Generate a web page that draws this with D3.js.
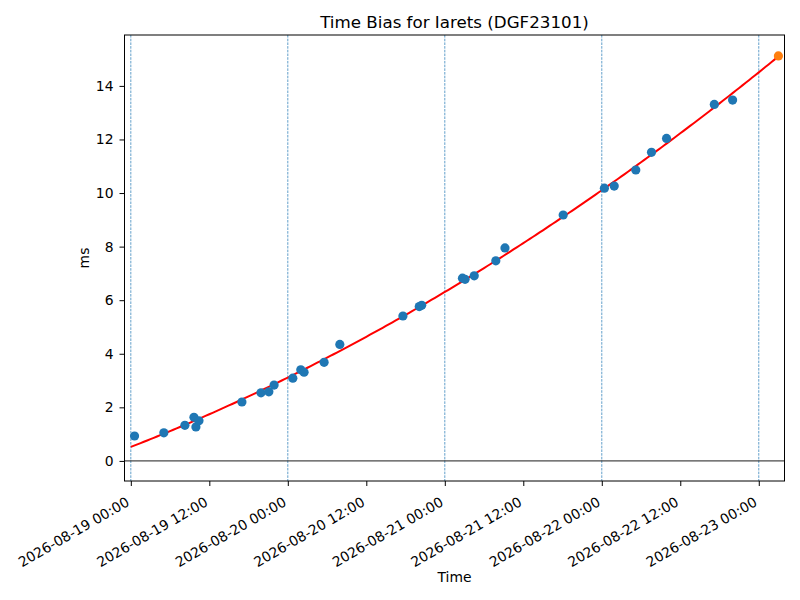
<!DOCTYPE html>
<html>
<head>
<meta charset="utf-8">
<script src="https://cdn.jsdelivr.net/npm/d3@7"></script>
<style>
  body { margin: 0; background: #fff; }
  svg text { font-family: "DejaVu Sans", sans-serif; fill: #000; }
</style>
</head>
<body>
<svg width="800" height="600"></svg>
<script>
// measured time bias samples
var times = ["2026-08-19 00:34", "2026-08-19 05:03", "2026-08-19 08:16", "2026-08-19 09:39", "2026-08-19 09:57",
             "2026-08-19 10:25", "2026-08-19 16:59", "2026-08-19 19:54", "2026-08-19 21:06", "2026-08-19 21:54",
             "2026-08-20 00:46", "2026-08-20 01:59", "2026-08-20 02:29", "2026-08-20 05:33", "2026-08-20 07:57",
             "2026-08-20 17:36", "2026-08-20 20:06", "2026-08-20 20:28", "2026-08-21 02:42", "2026-08-21 03:06",
             "2026-08-21 04:30", "2026-08-21 07:48", "2026-08-21 09:12", "2026-08-21 18:06", "2026-08-22 00:24",
             "2026-08-22 01:54", "2026-08-22 05:12", "2026-08-22 07:36", "2026-08-22 09:54", "2026-08-22 17:12",
             "2026-08-22 20:00"];
var biasMs = [0.93, 1.05, 1.33, 1.63, 1.27,
              1.50, 2.20, 2.54, 2.58, 2.83,
              3.09, 3.40, 3.31, 3.68, 4.35,
              5.41, 5.76, 5.81, 6.82, 6.78,
              6.91, 7.47, 7.95, 9.18, 10.18,
              10.26, 10.86, 11.52, 12.04, 13.31,
              13.47];
// predicted point
var predTime = "2026-08-23 03:00";
var predMs = 15.12;
// day markers
var dayLines = ["2026-08-19 00:00", "2026-08-20 00:00", "2026-08-21 00:00", "2026-08-22 00:00", "2026-08-23 00:00"];
var yTicks = [0, 2, 4, 6, 8, 10, 12, 14];
var xRange = ["2026-08-18 23:02", "2026-08-23 03:56"];
var yRange = [-0.75, 15.9];

var parse = d3.timeParse("%Y-%m-%d %H:%M");
var fmt = d3.timeFormat("%Y-%m-%d %H:%M");
var pts = times.map(function(t, i){ return {t: parse(t), v: biasMs[i]}; });

var svg = d3.select("svg");
var pL = 124.5, pR = 784.5, pT = 35, pB = 481;

var x = d3.scaleTime().domain(xRange.map(parse)).range([pL, pR]);
var y = d3.scaleLinear().domain(yRange).range([pB, pT]);

// quadratic least squares fit on the samples (hours since first day line)
var t0 = parse(dayLines[0]);
function hrs(d){ return (d - t0) / 3600000; }
function fitQuad(xs, ys){
  var S = [[0,0,0],[0,0,0],[0,0,0]], B = [0,0,0];
  xs.forEach(function(xv, i){
    var p = [1, xv, xv*xv];
    for (var r=0; r<3; r++){
      B[r] += p[r]*ys[i];
      for (var c=0; c<3; c++) S[r][c] += p[r]*p[c];
    }
  });
  // gaussian elimination
  for (var k=0; k<3; k++){
    for (var r=k+1; r<3; r++){
      var f = S[r][k]/S[k][k];
      for (var c=k; c<3; c++) S[r][c] -= f*S[k][c];
      B[r] -= f*B[k];
    }
  }
  var a = [0,0,0];
  for (var r=2; r>=0; r--){
    var s = B[r];
    for (var c=r+1; c<3; c++) s -= S[r][c]*a[c];
    a[r] = s/S[r][r];
  }
  return a;
}
var coef = fitQuad(pts.map(function(d){ return hrs(d.t); }), biasMs);
var tEnd = hrs(parse(predTime));
var fitPts = d3.range(0, tEnd + 0.01, 0.5).map(function(h){
  return {t: new Date(+t0 + h*3600000), v: coef[0] + coef[1]*h + coef[2]*h*h};
});

svg.append("defs").append("clipPath").attr("id", "clip")
  .append("rect").attr("x", pL).attr("y", pT).attr("width", pR-pL).attr("height", pB-pT);
var plot = svg.append("g").attr("clip-path", "url(#clip)");

// vertical day lines
dayLines.forEach(function(d){
  plot.append("line").attr("x1", x(parse(d))).attr("x2", x(parse(d)))
    .attr("y1", pT).attr("y2", pB)
    .attr("stroke", "#1f77b4").attr("stroke-width", 0.7).attr("stroke-dasharray", "2.6,1.1");
});
// zero line
plot.append("line").attr("x1", pL).attr("x2", pR).attr("y1", y(0)).attr("y2", y(0))
  .attr("stroke", "#000").attr("stroke-width", 0.9);

// fit curve
plot.append("path").datum(fitPts)
  .attr("d", d3.line().x(function(d){ return x(d.t); }).y(function(d){ return y(d.v); }))
  .attr("fill", "none").attr("stroke", "red").attr("stroke-width", 2);

// samples
plot.selectAll("circle.s").data(pts).enter().append("circle")
  .attr("cx", function(d){ return x(d.t); }).attr("cy", function(d){ return y(d.v); })
  .attr("r", 4.6).attr("fill", "#1f77b4");
plot.append("circle").attr("cx", x(parse(predTime))).attr("cy", y(predMs))
  .attr("r", 4.6).attr("fill", "#ff7f0e");

// axes
var xTicks = d3.range(0, 9).map(function(i){ return new Date(+t0 + i*12*3600000); });
var xAxis = svg.append("g").attr("transform", "translate(0," + pB + ")")
  .call(d3.axisBottom(x).tickValues(xTicks).tickFormat(fmt).tickSize(5).tickPadding(3));
xAxis.selectAll("text")
  .attr("font-size", "13.9px")
  .style("text-anchor", "end")
  .attr("dy", "0")
  .attr("transform", "translate(-5,17) rotate(-30)");
var yAxis = svg.append("g").attr("transform", "translate(" + pL + ",0)")
  .call(d3.axisLeft(y).tickValues(yTicks).tickSize(5).tickPadding(6));
yAxis.selectAll("text").attr("font-size", "13.9px");
[xAxis, yAxis].forEach(function(a){
  a.select(".domain").remove();
  a.selectAll("line").attr("stroke", "#000").attr("stroke-width", 1);
});

// frame
svg.append("rect").attr("x", pL).attr("y", pT).attr("width", pR-pL).attr("height", pB-pT)
  .attr("fill", "none").attr("stroke", "#000").attr("stroke-width", 1);

// titles
svg.append("text").attr("x", (pL+pR)/2).attr("y", 28).attr("text-anchor", "middle")
  .attr("font-size", "16.7px").text("Time Bias for Iarets (DGF23101)");
svg.append("text").attr("x", (pL+pR)/2).attr("y", 582).attr("text-anchor", "middle")
  .attr("font-size", "13.9px").text("Time");
svg.append("text").attr("transform", "translate(89," + (pT+pB)/2 + ") rotate(-90)")
  .attr("text-anchor", "middle").attr("font-size", "13.9px").text("ms");
</script>
</body>
</html>
